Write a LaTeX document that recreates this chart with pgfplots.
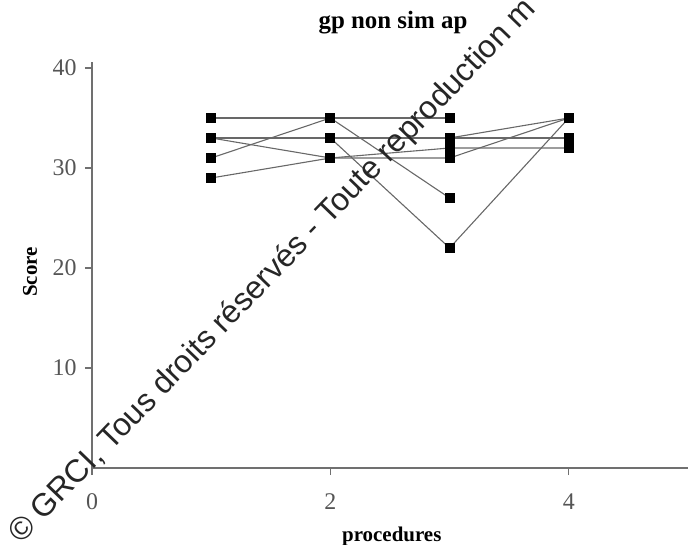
\documentclass[border=0pt]{standalone}
\usepackage{pgfplots}
\pgfplotsset{compat=1.18}
\usepackage{fontspec}
\setmainfont{Liberation Serif}
\newfontfamily\wm{Liberation Sans}
\definecolor{axgray}{HTML}{707070}
\definecolor{labgray}{HTML}{555555}
\definecolor{lngray}{HTML}{686868}
\tikzset{subj/.style={draw=lngray, line width=1.1bp, mark=square*, mark size=4.5bp, mark options={draw=black, fill=black, solid}}}
\begin{document}
\begin{tikzpicture}
\useasboundingbox (0bp,0bp) rectangle (688bp,545bp);
\begin{scope}
\clip (0bp,0bp) rectangle (688bp,545bp);
\begin{axis}[
  at={(92bp,77bp)}, anchor=south west,
  scale only axis, width=596bp, height=406bp,
  xmin=0, xmax=5, ymin=0, ymax=40.6,
  axis x line=bottom, axis y line=left,
  axis line style={-, draw=axgray, line width=1.4bp},
  xtick={0,2,4}, ytick={10,20,30,40},
  tick align=outside, major tick length=7bp,
  tick style={draw=axgray, line width=1.2bp},
  ticklabel style={font=\fontsize{24}{24}\selectfont, text=labgray},
  /pgf/number format/assume math mode=true,
  xticklabel style={yshift=-15bp},
  yticklabel style={xshift=-5bp},
  title={gp non sim ap},
  title style={at={(axis description cs:0.505,1.069)}, anchor=base, font=\bfseries\fontsize{25}{25}\selectfont},
  xlabel={procedures},
  xlabel style={at={(axis description cs:0.503,-0.18)}, anchor=base, font=\bfseries\fontsize{21}{21}\selectfont},
  ylabel={Score},
  ylabel style={at={(axis description cs:-0.104,0.483)}, anchor=center, font=\bfseries\fontsize{21}{21}\selectfont},
  clip=false,
]
\addplot[subj] coordinates {(1,35) (2,35) (3,35)};
\addplot[subj] coordinates {(1,31) (2,35) (3,27)};
\addplot[subj] coordinates {(1,33) (2,33) (3,33) (4,35)};
\addplot[subj] coordinates {(1,33) (2,33) (3,33) (4,33)};
\addplot[subj] coordinates {(1,33) (2,33) (3,22) (4,35)};
\addplot[subj] coordinates {(1,33) (2,31) (3,32) (4,32)};
\addplot[subj] coordinates {(1,29) (2,31) (3,31) (4,35)};
\end{axis}
\node[rotate=46, anchor=west, inner sep=0pt, text=black!85, font=\wm\fontsize{32}{32}\selectfont] at (15bp,6bp) {© GRCI, Tous droits réservés - Toute reproduction m};
\end{scope}
\end{tikzpicture}
\end{document}
